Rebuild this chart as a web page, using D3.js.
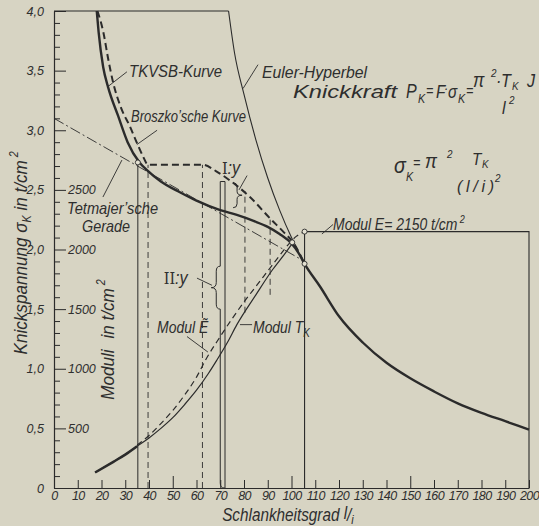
<!DOCTYPE html>
<html>
<head>
<meta charset="utf-8">
<script src="https://cdn.jsdelivr.net/npm/d3@7"></script>
<style>
  html, body { margin: 0; padding: 0; background: #d7d4c3; }
  svg { display: block; }
  text { font-family: "Liberation Sans", "DejaVu Sans", sans-serif; font-style: italic; fill: #2e2e2e; }
  .num { font-size: 12.5px; }
</style>
</head>
<body>
<div id="chart"></div>
<script>
// ---------- data ----------
// slenderness l/i on x, buckling stress in t/cm2 (sigma) or moduli in t/cm2 on y
const xTickValues = [0, 10, 20, 30, 40, 50, 60, 70, 80, 90, 100, 110, 120, 130, 140, 150, 160, 170, 180, 190, 200];
const xTickLabels = ["0", "10", "20", "30", "40", "50", "60", "70", "80", "90", "100", "110", "120", "130", "140", "150", "160", "170", "180", "190", "200"];
const xMajorTicks = [50, 100, 150];

const sigmaValues = [0, 0.5, 1.0, 1.5, 2.0, 2.5, 3.0, 3.5, 4.0];
const sigmaLabels = ["0", "0,5", "1,0", "1,5", "2,0", "2,5", "3,0", "3,5", "4,0"];
const moduliValues = [500, 1000, 1500, 2000, 2500];
const moduliLabels = ["500", "1000", "1500", "2000", "2500"];

// TKVSB-Kurve (thick solid), continues as Euler hyperbola past ~106
const tkvsb = [
  [18, 4.0], [18.8, 3.82], [20.7, 3.53], [22.8, 3.36], [27, 3.12], [31, 2.9],
  [36, 2.73], [39.5, 2.66], [45, 2.57], [53, 2.48], [60, 2.41], [70, 2.33],
  [77, 2.29], [84, 2.24], [90, 2.19], [95, 2.13], [100, 2.05], [103, 1.97],
  [105.5, 1.88], [112, 1.69], [120, 1.44], [130, 1.22], [140, 1.05], [150, 0.92],
  [160, 0.81], [170, 0.71], [180, 0.63], [190, 0.56], [200, 0.49]
];
// Broszko'sche Kurve (thick dashed)
const broszko = [
  [18.3, 4.0], [20.8, 3.82], [22.8, 3.6], [24.9, 3.4], [28, 3.2], [32, 3.03],
  [35, 2.89], [37.5, 2.78], [39.6, 2.71], [62.8, 2.71], [68, 2.66], [74, 2.58],
  [82.5, 2.44], [91, 2.26], [97, 2.14], [101, 2.05], [105.5, 1.88]
];
// Euler-Hyperbel, thin part above the joint
const eulerThin = [
  [73.5, 4.0], [76, 3.65], [80, 3.3], [85, 2.92], [90, 2.6], [95, 2.33], [100, 2.1], [103, 1.98]
];
// Tetmajer'sche Gerade
const tetmajer = [[0, 3.1], [105.5, 1.9]];

// moduli in t/cm2
const modulTk = [
  [17.3, 130], [25, 220], [30, 280], [35, 350], [40, 420], [45, 500], [50, 590],
  [55, 700], [60, 820], [65, 960], [68.5, 1070], [73, 1220], [77, 1370],
  [85, 1620], [92, 1830], [97, 1960], [100.3, 2050]
];
const modulEtilde = [
  [35, 360], [40, 440], [45, 540], [50, 650], [55, 780], [60, 930], [64, 1080],
  [70, 1270], [75, 1420], [80, 1560], [85, 1690], [90, 1820], [95, 1950],
  [99, 2050], [102, 2110], [105.5, 2150]
];
const modulE = [[105.5, 0], [105.5, 2150], [200, 2150], [200, 0]];

// construction verticals: [lambda, sigma bottom, sigma top]
const solidVerticals = [[35.3, 0, 2.73]];
const dashedVerticals = [[39.6, 0, 2.71], [62.5, 0, 2.71], [80.4, 1.47, 2.49], [91, 1.62, 2.25]];
const doubleLine = { left: 70, right: 72, top: 2.57, braceFrom: 1.86, braceTip: 1.68, braceTo: 1.5 };
const braceI = { lambda: 75.4, from: 2.56, to: 2.35 };
const markPoints = [[35.3, 2.73], [100.3, 2.06], [105.5, 2.15], [105.5, 1.88]];

// ---------- scales ----------
const width = 539, height = 526;
const ink = "#2b2b2b";

const x = d3.scaleLinear().domain([0, 200]).range([54, 529]);
const y = d3.scaleLinear().domain([0, 4]).range([488, 11]);
const yM = d3.scaleLinear().domain([0, 4000]).range([488, 11]);

const svg = d3.select("#chart").append("svg").attr("width", width).attr("height", height);
svg.append("rect").attr("width", width).attr("height", height).attr("fill", "#d7d4c3");

const lineS = d3.line().x(d => x(d[0])).y(d => y(d[1])).curve(d3.curveMonotoneX);
const lineM = d3.line().x(d => x(d[0])).y(d => yM(d[1])).curve(d3.curveMonotoneX);
const lineMStraight = d3.line().x(d => x(d[0])).y(d => yM(d[1]));

// condensed italic lettering: text scaled horizontally
function label(px, py, size, sx = 0.85) {
  return svg.append("text")
    .attr("transform", `translate(${px},${py}) scale(${sx},1)`)
    .attr("font-size", size);
}

// ---------- axes ----------
const xAxis = d3.axisBottom(x)
  .tickValues(xTickValues)
  .tickFormat((d, i) => xTickLabels[i])
  .tickSizeInner(-8)
  .tickSizeOuter(0)
  .tickPadding(3);

const gx = svg.append("g")
  .attr("transform", `translate(0,${y(0)})`)
  .call(xAxis)
  .attr("font-family", null).attr("font-size", null).attr("color", ink);
gx.selectAll(".tick line").attr("y2", d => xMajorTicks.includes(d) ? -12 : -8);
gx.selectAll(".tick text").attr("class", "num").attr("font-size", 13).attr("letter-spacing", -0.6);
gx.select(".domain").attr("stroke-width", 1.2);

const yAxis = d3.axisLeft(y)
  .tickValues(sigmaValues)
  .tickFormat((d, i) => sigmaLabels[i])
  .tickSizeInner(-12)
  .tickSizeOuter(0)
  .tickPadding(10);

const gy = svg.append("g")
  .attr("transform", `translate(${x(0)},0)`)
  .call(yAxis)
  .attr("font-family", null).attr("font-size", null).attr("color", ink);
gy.selectAll(".tick text").attr("class", "num").attr("font-size", 13);
gy.select(".domain").attr("stroke-width", 1.2);

const minor = d3.range(1, 40).filter(i => i % 5 !== 0).map(i => i / 10);
svg.append("g")
  .attr("transform", `translate(${x(0)},0)`)
  .call(d3.axisLeft(y).tickValues(minor).tickSize(-6).tickFormat(""))
  .attr("color", ink)
  .call(g => g.select(".domain").remove());

svg.selectAll(".mod-label")
  .data(moduliValues)
  .join("text")
  .attr("class", "num")
  .attr("font-size", 13)
  .attr("x", x(0) + 14)
  .attr("y", d => yM(d))
  .attr("dy", "0.35em")
  .text((d, i) => moduliLabels[i]);

// top frame up to the Euler hyperbola
svg.append("line")
  .attr("x1", x(0)).attr("x2", x(eulerThin[0][0]))
  .attr("y1", y(4)).attr("y2", y(4))
  .attr("stroke", ink).attr("stroke-width", 1.2);

// ---------- construction lines ----------
svg.selectAll(".vsolid")
  .data(solidVerticals)
  .join("line")
  .attr("x1", d => x(d[0])).attr("x2", d => x(d[0]))
  .attr("y1", d => y(d[1])).attr("y2", d => y(d[2]))
  .attr("stroke", ink).attr("stroke-width", 1);

svg.selectAll(".vdash")
  .data(dashedVerticals)
  .join("line")
  .attr("x1", d => x(d[0])).attr("x2", d => x(d[0]))
  .attr("y1", d => y(d[1])).attr("y2", d => y(d[2]))
  .attr("stroke", ink).attr("stroke-width", 0.9)
  .attr("stroke-dasharray", "6,4");

// narrow double line with II:y brace on its left side
{
  const xl = x(doubleLine.left), xr = x(doubleLine.right);
  const yt = y(doubleLine.top), yb = y(0);
  const b0 = y(doubleLine.braceFrom), bm = y(doubleLine.braceTip), b1 = y(doubleLine.braceTo);
  const h = 4, w = 9;
  const p = d3.path();
  p.moveTo(xr, yt);
  p.lineTo(xl, yt);
  p.lineTo(xl, b0);
  p.quadraticCurveTo(xl - h, b0, xl - h, b0 + 5);
  p.lineTo(xl - h, bm - 5);
  p.quadraticCurveTo(xl - h, bm, xl - w, bm);
  p.quadraticCurveTo(xl - h, bm, xl - h, bm + 5);
  p.lineTo(xl - h, b1 - 5);
  p.quadraticCurveTo(xl - h, b1, xl, b1);
  p.lineTo(xl, yb - 5);
  p.quadraticCurveTo(xl, yb, xl + 4, yb);
  p.lineTo(xr, yb);
  p.lineTo(xr, yt);
  svg.append("path").attr("d", p.toString())
    .attr("fill", "none").attr("stroke", ink).attr("stroke-width", 1);
}

// I:y brace
{
  const xb = x(braceI.lambda), y0 = y(braceI.from), y1 = y(braceI.to);
  const ym = (y0 + y1) / 2, h = 4, w = 9;
  const p = d3.path();
  p.moveTo(xb, y0);
  p.quadraticCurveTo(xb + h, y0, xb + h, y0 + 4);
  p.lineTo(xb + h, ym - 4);
  p.quadraticCurveTo(xb + h, ym, xb + w, ym);
  p.quadraticCurveTo(xb + h, ym, xb + h, ym + 4);
  p.lineTo(xb + h, y1 - 4);
  p.quadraticCurveTo(xb + h, y1, xb, y1);
  svg.append("path").attr("d", p.toString())
    .attr("fill", "none").attr("stroke", ink).attr("stroke-width", 1);
}

// ---------- curves ----------
svg.append("path").datum(tetmajer)
  .attr("d", d3.line().x(d => x(d[0])).y(d => y(d[1])))
  .attr("fill", "none").attr("stroke", ink).attr("stroke-width", 0.9)
  .attr("stroke-dasharray", "11,3,2,3");

svg.append("path").datum(eulerThin)
  .attr("d", lineS)
  .attr("fill", "none").attr("stroke", ink).attr("stroke-width", 1.1);

svg.append("path").datum(modulE)
  .attr("d", lineMStraight)
  .attr("fill", "none").attr("stroke", ink).attr("stroke-width", 1.1);

svg.append("path").datum(modulEtilde)
  .attr("d", lineM)
  .attr("fill", "none").attr("stroke", ink).attr("stroke-width", 1.2)
  .attr("stroke-dasharray", "6,4");

svg.append("path").datum(modulTk)
  .attr("d", lineM)
  .attr("fill", "none").attr("stroke", ink).attr("stroke-width", 1.2);

svg.append("path").datum(modulTk.filter(d => d[0] <= 35))
  .attr("d", lineM)
  .attr("fill", "none").attr("stroke", ink).attr("stroke-width", 2.6);

svg.append("path").datum(broszko)
  .attr("d", lineS)
  .attr("fill", "none").attr("stroke", ink).attr("stroke-width", 2)
  .attr("stroke-dasharray", "7,4");

svg.append("path").datum(tkvsb)
  .attr("d", lineS)
  .attr("fill", "none").attr("stroke", ink).attr("stroke-width", 2.4);

svg.selectAll(".mark")
  .data(markPoints)
  .join("circle")
  .attr("cx", d => x(d[0])).attr("cy", d => y(d[1]))
  .attr("r", 2.5)
  .attr("fill", "#e4e1d2").attr("stroke", ink).attr("stroke-width", 0.9);

// ---------- annotations ----------
// leader lines, in data coordinates [lambda1, sigma1, lambda2, sigma2]
const leaders = [
  [30.7, 3.49, 22.3, 3.36],   // TKVSB
  [43.4, 3.0, 34.9, 2.88],    // Broszko
  [85.9, 3.55, 79.6, 3.35],   // Euler
  [20.6, 2.44, 28.6, 2.75],   // Tetmajer
  [112.8, 2.13, 117.5, 2.21], // Modul E
  [56, 1.27, 64.8, 1.14],     // Modul E~
  [78.3, 1.37, 83.4, 1.37],   // Modul Tk
  [81.3, 2.62, 77.9, 2.5],    // I:y
  [60.2, 1.76, 66.5, 1.7]     // II:y
];
svg.selectAll(".leader")
  .data(leaders)
  .join("line")
  .attr("x1", d => x(d[0])).attr("y1", d => y(d[1]))
  .attr("x2", d => x(d[2])).attr("y2", d => y(d[3]))
  .attr("stroke", ink).attr("stroke-width", 0.9);

const labels = [
  { t: "TKVSB-Kurve", l: 31.6, s: 3.45, len: 93 },
  { t: "Euler-Hyperbel", l: 87.6, s: 3.44, len: 105 },
  { t: "Broszko\u2019sche Kurve", l: 32.4, s: 3.07, len: 115 },
  { t: "Tetmajer\u2019sche", l: 5.5, s: 2.3, len: 91 },
  { t: "Gerade", l: 11.8, s: 2.15, len: 48 }
];
svg.selectAll(".lbl")
  .data(labels)
  .join("text")
  .attr("font-size", 17)
  .attr("x", d => x(d.l)).attr("y", d => y(d.s))
  .attr("textLength", d => d.len)
  .attr("lengthAdjust", "spacingAndGlyphs")
  .text(d => d.t);

// I:y and II:y (roman numerals in serif)
const romanLabels = [
  { r: "I", l: 70.7, s: 2.63 },
  { r: "II", l: 46.2, s: 1.71 }
];
romanLabels.forEach(d => {
  const t = label(x(d.l), y(d.s), 18, 0.9);
  t.append("tspan").attr("font-family", "DejaVu Serif").attr("font-style", "normal").attr("font-size", 16).text(d.r);
  t.append("tspan").text(":y");
});

// Modul labels
{
  label(x(43.4), y(1.3), 17, 0.82).text("Modul \u1EBC");

  const t2 = label(x(83.8), y(1.3), 17, 0.82);
  t2.append("tspan").text("Modul T");
  t2.append("tspan").attr("font-size", 12).attr("dy", 4).text("K");

  const t3 = label(x(117.5), y(2.16), 17, 0.82);
  t3.append("tspan").text("Modul E= 2150 t/cm");
  t3.append("tspan").attr("font-size", 11).attr("dy", -7).text(" 2");
}

// axis titles
{
  const t = svg.append("text").attr("font-size", 19)
    .attr("transform", `translate(27,${y(1.12)}) rotate(-90) scale(0.9,1)`);
  t.append("tspan").text("Knickspannung \u03C3");
  t.append("tspan").attr("font-size", 12).attr("dy", 4).text("K");
  t.append("tspan").attr("dy", -4).text(" in t/cm");
  t.append("tspan").attr("font-size", 12).attr("dy", -9).text(" 2");

  const m = svg.append("text").attr("font-size", 19)
    .attr("transform", `translate(114,${y(0.74)}) rotate(-90) scale(0.9,1)`);
  m.append("tspan").text("Moduli");
  m.append("tspan").attr("dx", 12).text("in t/cm");
  m.append("tspan").attr("font-size", 12).attr("dy", -9).text(" 2");

  const s = label(x(70.8), 521, 18, 0.85);
  s.append("tspan").text("Schlankheitsgrad ");
  s.append("tspan").attr("dy", -2).text("l");
  s.append("tspan").attr("dy", 2).text("/");
  s.append("tspan").attr("font-size", 13).attr("dy", 3).text("i");
}

// formulas: each piece placed where the picture has it
{
  svg.append("text").attr("x", 293).attr("y", 98).attr("font-size", 19)
    .attr("textLength", 104).attr("lengthAdjust", "spacingAndGlyphs").text("Knickkraft");
  label(406, 98, 20, 0.8).text("P");
  label(418, 103, 12, 0.9).text("K");
  label(426, 96, 14, 0.9).text("=");
  label(436, 98, 19, 0.8).text("F");
  label(444, 93, 14, 0.9).text("\u00B7");
  label(448, 98, 19, 0.8).text("\u03C3");
  label(458, 103, 12, 0.9).text("K");
  label(466, 96, 14, 0.9).text("=");
  label(473, 87, 20, 0.85).text("\u03C0");
  label(491, 77, 11, 0.9).text("2");
  label(496, 87, 18, 0.9).text("\u00B7");
  label(501, 87, 18, 0.9).text("T");
  label(512, 90, 11, 0.9).text("K");
  label(527, 87, 18, 0.9).text("J");
  label(502, 114, 18, 0.9).text("l");
  label(509, 104, 11, 0.9).text("2");

  label(394, 173, 23, 0.85).text("\u03C3");
  label(406, 181, 12, 0.9).text("K");
  label(413, 168, 14, 0.9).text("=");
  label(425, 168, 21, 0.85).text("\u03C0");
  label(447, 158, 11, 0.9).text("2");
  label(472, 165, 17, 0.9).text("T");
  label(482, 168, 11, 0.9).text("K");
  svg.append("text").attr("x", 457).attr("y", 192).attr("font-size", 16)
    .attr("textLength", 37).attr("lengthAdjust", "spacing").text("(l/i)");
  label(495, 182, 11, 0.9).text("2");
}
</script>
</body>
</html>
